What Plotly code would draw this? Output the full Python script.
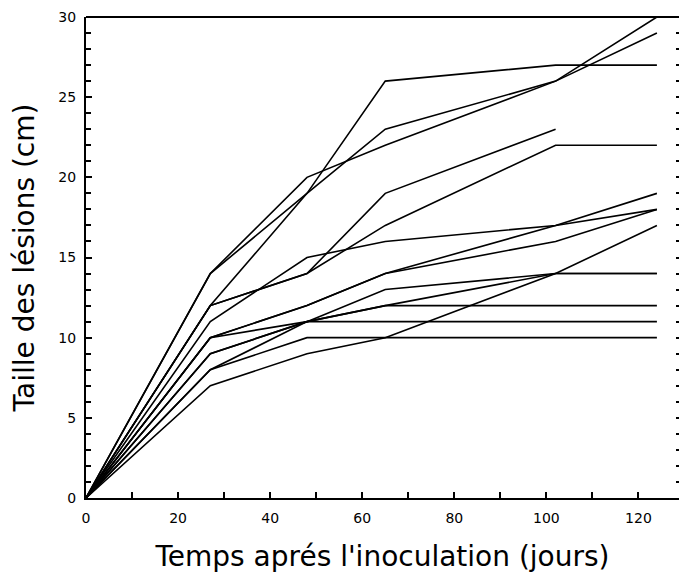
import plotly.graph_objects as go

days = [0, 27, 48, 65, 102, 124]

# lesion sizes (cm) for each lesion
lesion_A = [0, 14, 20, 22, 26, 29]
lesion_B = [0, 14, 19, 23, 26, 30]
lesion_C = [0, 12, 19, 26, 27, 27]
lesion_D = [0, 12, 14, 19, 23, None]
lesion_E = [0, 12, 14, 17, 22, 22]
lesion_F = [0, 11, 15, 16, 17, 18]
lesion_G = [0, 10, 12, 14, 17, 19]
lesion_H = [0, 10, 12, 14, 16, 18]
lesion_I = [0, 9, 11, 13, 14, 14]
lesion_J = [0, 9, 11, 12, 14, 14]
lesion_K = [0, 10, 11, 12, 12, 12]
lesion_L = [0, 8, 11, 11, 11, 11]
lesion_M = [0, 7, 9, 10, 14, 17]
lesion_N = [0, 8, 10, 10, 10, 10]

series = [lesion_A, lesion_B, lesion_C, lesion_D, lesion_E, lesion_F, lesion_G,
          lesion_H, lesion_I, lesion_J, lesion_K, lesion_L, lesion_M, lesion_N]

y_ticks = [0, 5, 10, 15, 20, 25, 30]
x_ticks = [0, 20, 40, 60, 80, 100, 120]

fig = go.Figure()
for s in series:
    fig.add_trace(go.Scatter(x=days, y=s, mode="lines",
                             line=dict(color="black", width=1.6),
                             showlegend=False, hoverinfo="skip"))

font_fam = "DejaVu Sans, Arial, sans-serif"

fig.update_layout(
    width=680, height=575,
    paper_bgcolor="white", plot_bgcolor="white",
    margin=dict(l=86, r=1, t=17, b=77, autoexpand=False),
    font=dict(family=font_fam, color="black"),
    xaxis=dict(
        range=[0, 128.8], tickvals=x_ticks, ticks="inside", ticklen=6,
        tickwidth=1.5, tickcolor="black", automargin=False, ticklabelstandoff=6,
        minor=dict(dtick=10, tick0=0, ticks="inside", ticklen=6, tickcolor="black", tickwidth=1.5),
        showline=True, linecolor="black", linewidth=2, showgrid=False, zeroline=False,
        tickfont=dict(size=14, family=font_fam),
        title=dict(text="Temps aprés l'inoculation (jours)", font=dict(size=28, family=font_fam), standoff=22),
    ),
    yaxis=dict(
        range=[0, 30], tickvals=y_ticks, ticks="inside", ticklen=6,
        tickwidth=1.5, tickcolor="black", automargin=False, ticklabelstandoff=5,
        minor=dict(dtick=1, tick0=0, ticks="inside", ticklen=5, tickcolor="black", tickwidth=1.5),
        showline=True, linecolor="black", linewidth=2, showgrid=False, zeroline=False,
        tickfont=dict(size=14, family=font_fam),
        title=dict(text="Taille des lésions (cm)", font=dict(size=28, family=font_fam), standoff=16),
    ),
    yaxis2=dict(
        range=[0, 30], overlaying="y", side="right", dtick=1, ticks="inside", ticklen=3,
        tickwidth=2, tickcolor="black", showticklabels=False, showline=False,
        showgrid=False, zeroline=False, automargin=False,
    ),
    shapes=[dict(type="line", xref="paper", yref="paper", x0=0, x1=1, y0=1, y1=1,
                 line=dict(color="black", width=2))],
)
fig.add_trace(go.Scatter(x=[None], y=[None], yaxis="y2", showlegend=False, hoverinfo="skip"))

fig.write_html("out.html", config={"displayModeBar": False},
               post_script="document.body.style.margin='0';")
